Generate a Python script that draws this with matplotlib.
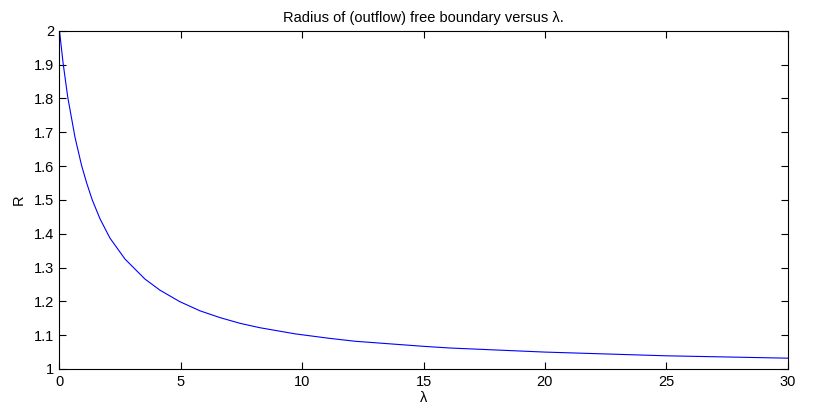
import numpy as np
import matplotlib.pyplot as plt

# values
lam = [0, 0.15, 0.34, 0.64, 0.91, 1.12, 1.35, 1.67, 2.08, 2.70, 3.52, 4.14,
       4.96, 5.79, 6.61, 7.44, 8.26, 9.7, 11.08, 12.18, 15, 16.1, 20, 25, 30]
R = [2.0, 1.904, 1.804, 1.685, 1.602, 1.550, 1.500, 1.444, 1.387, 1.325,
     1.266, 1.233, 1.199, 1.172, 1.152, 1.135, 1.122, 1.104, 1.091, 1.082,
     1.067, 1.062, 1.050, 1.039, 1.032]

xticks = [0, 5, 10, 15, 20, 25, 30]
yticks = [1, 1.1, 1.2, 1.3, 1.4, 1.5, 1.6, 1.7, 1.8, 1.9, 2]
yticklabels = ['1', '1.1', '1.2', '1.3', '1.4', '1.5', '1.6', '1.7', '1.8', '1.9', '2']

plt.rcParams['font.family'] = ['Liberation Sans', 'DejaVu Sans']

fig = plt.figure(figsize=(8.17, 4.16), dpi=100)
ax = fig.add_axes([0.0728, 0.113, 0.8912, 0.813])
ax.plot(lam, R, color='#0000ff', lw=0.8)
ax.set_xlim(0, 30)
ax.set_ylim(1, 2)
ax.set_xticks(xticks)
ax.set_yticks(yticks)
ax.set_yticklabels(yticklabels)
ax.tick_params(direction='in', top=True, right=True, length=5, width=0.8,
               labelsize=10.5, pad=4)
for s in ax.spines.values():
    s.set_linewidth(0.8)
ax.set_title('Radius of (outflow) free boundary versus λ.', fontsize=10.5, pad=6)
ax.set_xlabel('λ', fontsize=10.5, labelpad=2)
ax.set_ylabel('R', fontsize=10.5, labelpad=6)

fig.savefig('out.png', dpi=100)
